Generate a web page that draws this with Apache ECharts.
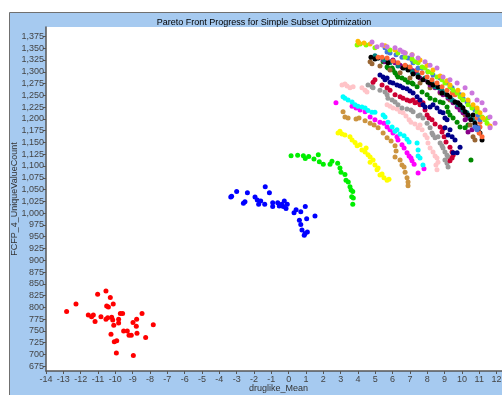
<!DOCTYPE html>
<html>
<head>
<meta charset="utf-8">
<script src="https://cdn.jsdelivr.net/npm/echarts@6/dist/echarts.min.js"></script>
<style>
  html, body { margin: 0; padding: 0; background: #fff; }
  #chart { width: 502px; height: 395px; }
</style>
</head>
<body>
<div id="chart"></div>
<script>
// tick labels
var xTicks = [-14, -13, -12, -11, -10, -9, -8, -7, -6, -5, -4, -3, -2, -1, 0, 1, 2, 3, 4, 5, 6, 7, 8, 9, 10, 11, 12];
var yTicks = [675, 700, 725, 750, 775, 800, 825, 850, 875, 900, 925, 950, 975, 1000, 1025, 1050, 1075, 1100,
  1125, 1150, 1175, 1200, 1225, 1250, 1275, 1300, 1325, 1350, 1375];

// one array per generation front: [druglike_Mean, FCFP_4_UniqueValueCount]
var redPts = [[-12.81,791],[-12.27,807],[-11.02,828],[-10.54,835],[-10.29,821],[-10.5,803],[-10.4,801],[-10.12,807],
  [-11.56,784],[-11.37,780],[-11.27,784],[-11.17,770],[-10.83,780],[-10.54,775],[-10.44,778],[-10.21,779],[-10.15,773],
  [-9.81,775],[-9.81,767],[-9.71,787],[-9.58,787],[-10.09,762],[-10.25,743],[-9.52,750],[-9.31,750],[-9.21,741],
  [-9.08,741],[-10.06,727],[-9.92,729],[-9.94,703],[-8.96,698],[-8.98,768],[-8.77,775],[-8.79,760],[-8.75,745],
  [-8.46,787],[-8.25,736],[-7.81,763]];
var bluePts = [[-3.34,1034],[-3.29,1036],[-3.0,1046],[-2.61,1021],[-2.52,1024],[-2.38,1043],[-1.94,1034],[-1.81,1028],
  [-1.73,1019],[-1.61,1026],[-1.38,1019],[-1.35,1056],[-1.11,1043],[-0.92,1022],[-0.92,1014],[-0.63,1022],[-0.54,1015],
  [-0.4,1019],[-0.31,1014],[-0.25,1026],[-0.15,1010],[-0.08,1019],[0.31,1001],[0.43,1007],[0.7,1003],[0.96,1014],
  [0.62,985],[0.7,976],[1.04,988],[1.52,994],[0.77,964],[0.95,957],[1.08,960],[0.9,953]];
var limePts = [[0.14,1122],[0.52,1123],[0.85,1122],[0.96,1116],[1.16,1120],[1.46,1115],[1.71,1124],[1.77,1109],
  [2.0,1104],[2.39,1104],[2.5,1110],[2.83,1106],[2.96,1096],[3.02,1087],[3.25,1082],[3.31,1070],[3.44,1066],
  [3.54,1056],[3.6,1049],[3.7,1046],[3.64,1035],[3.73,1032],[3.7,1019]];
var yellowPts = [[2.85,1170],[2.96,1174],[3.08,1168],[3.25,1166],[3.54,1162],[3.66,1155],[3.83,1150],[3.95,1143],
  [4.12,1145],[4.23,1134],[4.41,1130],[4.47,1138],[4.58,1124],[4.7,1119],[4.7,1108],[4.87,1113],[4.98,1102],
  [5.1,1092],[5.16,1096],[5.27,1081],[5.39,1083],[5.5,1075],[5.68,1070],[5.79,1072]];
var tanPts = [[3.14,1215],[3.25,1204],[3.43,1202],[3.89,1200],[4.06,1202],[4.41,1196],[4.7,1191],[4.93,1187],
  [5.16,1181],[5.45,1170],[5.68,1160],[5.91,1153],[6.14,1143],[6.2,1132],[6.14,1119],[6.43,1113],[6.54,1102],
  [6.66,1098],[6.72,1087],[6.83,1075],[6.89,1066],[6.89,1058]];
var magentaPts = [[2.73,1234],[3.66,1227],[3.89,1223],[4.12,1219],[4.41,1215],[4.7,1204],[4.98,1198],[5.27,1193],
  [5.5,1191],[5.68,1183],[5.85,1177],[6.02,1170],[6.25,1162],[6.31,1155],[6.54,1145],[6.66,1138],[6.83,1128],
  [6.95,1121],[7.06,1117],[7.12,1111],[7.24,1104],[7.47,1085],[7.81,1094]];
var cyanPts = [[3.14,1247],[3.25,1244],[3.43,1240],[3.66,1236],[3.83,1230],[4.0,1227],[4.23,1225],[4.41,1223],
  [4.58,1218],[4.81,1214],[4.98,1214],[5.45,1208],[5.56,1204],[5.73,1193],[5.97,1183],[6.14,1174],[6.25,1177],
  [6.43,1168],[6.66,1164],[6.83,1157],[6.95,1151],[7.41,1149],[7.47,1134],[7.47,1121],[7.58,1117],[7.75,1102]];
var pinkPts = [[3.08,1272],[3.25,1274],[3.37,1270],[3.54,1266],[3.72,1268],[4.23,1266],[4.41,1261],[4.52,1257],
  [5.68,1230],[5.85,1227],[6.02,1223],[6.25,1221],[6.43,1215],[6.6,1213],[6.77,1206],[6.95,1198],[7.06,1193],
  [7.29,1189],[7.47,1181],[7.58,1187],[7.7,1177],[7.87,1166],[7.99,1160],[8.04,1149],[8.16,1138],[8.33,1130],
  [8.45,1121],[8.56,1117],[8.62,1108],[8.5,1102],[8.56,1092]];
var greyPts = [[4.58,1272],[4.81,1268],[4.87,1266],[5.27,1261],[5.56,1257],[5.68,1251],[5.73,1244],[5.97,1240],
  [6.14,1236],[6.31,1230],[6.54,1223],[6.83,1221],[7.06,1219],[7.18,1215],[7.47,1206],[7.58,1208],[7.75,1202],
  [7.99,1191],[8.16,1181],[8.27,1170],[8.33,1166],[8.45,1160],[8.62,1162],[8.74,1149],[8.85,1143],[8.91,1138],
  [9.02,1130],[9.14,1123],[9.2,1119],[9.02,1113],[9.14,1106],[9.2,1098]];
var crimsonPts = [[4.87,1278],[4.98,1283],[5.39,1272],[5.68,1266],[5.85,1261],[6.14,1251],[6.43,1247],[6.6,1244],
  [6.83,1240],[7.0,1238],[7.18,1240],[7.29,1234],[7.47,1236],[7.58,1230],[7.75,1234],[7.87,1219],[7.99,1208],
  [8.1,1202],[8.27,1198],[8.45,1189],[8.74,1183],[8.91,1179],[8.85,1172],[8.97,1162],[9.08,1151],[9.31,1140],
  [9.43,1130],[9.49,1123],[9.43,1117],[9.31,1111]];
var navyPts = [[5.27,1293],[5.45,1289],[5.56,1283],[5.68,1287],[5.85,1278],[6.02,1276],[6.25,1272],[6.43,1270],
  [6.6,1266],[6.83,1264],[7.0,1259],[7.18,1255],[7.41,1247],[7.58,1240],[7.75,1230],[7.87,1225],[8.16,1225],
  [8.33,1230],[8.56,1223],[8.74,1215],[8.91,1213],[9.02,1202],[9.14,1198],[9.02,1181],[9.31,1177],[9.2,1166],
  [9.43,1162],[9.6,1155],[9.89,1140],[9.72,1128],[9.49,1128]];
var darkGreenPts = [[5.45,1321],[5.68,1310],[5.73,1308],[5.97,1308],[6.02,1304],[6.14,1298],[6.25,1293],[6.31,1289],
  [6.54,1287],[6.72,1283],[6.89,1278],[7.12,1276],[7.18,1274],[7.41,1268],[7.7,1257],[7.99,1251],[8.16,1244],
  [8.45,1240],[8.74,1236],[8.91,1234],[9.14,1225],[9.2,1215],[9.31,1208],[9.49,1202],[9.72,1193],[9.89,1183],
  [10.18,1181],[10.35,1187],[10.52,1113]];
var brownPts = [[4.7,1321],[4.81,1317],[5.27,1312],[5.85,1304],[6.43,1298],[7.0,1287],[7.58,1276],[8.16,1266],
  [8.74,1255],[9.31,1240],[9.77,1225],[10.18,1208],[10.47,1187],[10.64,1162],[10.75,1155]];
var purplePts = [[5.45,1325],[5.56,1321],[5.85,1321],[6.02,1325],[6.14,1319],[6.43,1314],[6.54,1310],[6.83,1308],
  [7.0,1308],[7.18,1302],[7.35,1298],[7.58,1287],[7.87,1283],[8.16,1272],[8.45,1266],[8.74,1257],[8.91,1251],
  [9.2,1244],[9.43,1240],[9.49,1234],[9.72,1225],[9.89,1219],[10.06,1213],[10.29,1208],[10.35,1202],[10.18,1198],
  [10.35,1172],[10.58,1177]];
var tealPts = [[4.98,1334],[5.16,1329],[5.5,1325],[5.85,1319],[6.31,1312],[6.72,1308],[7.12,1300],[7.47,1293],
  [7.87,1287],[8.27,1278],[8.45,1268],[8.62,1266],[8.85,1261],[9.02,1255],[9.2,1247],[9.43,1240],[9.6,1236],
  [9.77,1230],[10.0,1225],[10.06,1219],[10.29,1213],[10.47,1204],[10.7,1198]];
var blackPts = [[4.75,1331],[4.98,1327],[5.16,1329],[5.73,1319],[6.6,1308],[6.83,1310],[6.89,1304],[7.18,1295],
  [7.47,1289],[7.75,1283],[8.04,1278],[8.16,1276],[8.33,1272],[8.62,1268],[8.85,1255],[9.14,1251],[9.31,1247],
  [9.6,1236],[9.77,1234],[9.89,1230],[10.06,1223],[10.18,1215],[10.35,1208],[10.64,1208],[10.52,1198],[10.75,1191],
  [10.87,1183],[10.93,1177],[11.04,1170],[11.16,1155]];
var tomatoPts = [[5.16,1331],[5.39,1331],[5.68,1329],[6.02,1323],[6.31,1319],[6.72,1314],[7.0,1310],[7.41,1304],
  [7.7,1298],[7.99,1289],[8.27,1283],[8.56,1276],[8.85,1268],[9.14,1261],[9.43,1255],[9.6,1251],[10.0,1244],
  [10.35,1236],[10.64,1225],[10.87,1219],[10.93,1208],[10.87,1202],[11.04,1193],[11.04,1183],[10.99,1170],[11.16,1162]];
var royalPts = [[5.56,1351],[5.68,1342],[5.85,1340],[6.2,1336],[6.54,1331],[6.89,1329],[7.12,1325],[7.18,1319],
  [7.47,1308],[7.7,1308],[8.04,1300],[8.33,1293],[8.74,1287],[9.14,1276],[9.43,1266],[9.72,1257],[9.89,1251],
  [10.06,1244],[10.29,1236],[10.58,1225],[10.75,1219],[10.93,1208],[11.04,1198],[10.75,1183],[10.87,1177],[10.93,1181]];
var chartreusePts = [[3.95,1357],[4.12,1359],[4.47,1357],[4.98,1351],[5.85,1346],[6.31,1340],[6.72,1331],[7.12,1327],
  [7.29,1321],[7.47,1319],[7.7,1310],[7.87,1308],[8.04,1300],[8.27,1298],[8.56,1289],[8.85,1283],[9.02,1276],
  [9.31,1268],[9.49,1261],[9.72,1255],[9.89,1247],[10.06,1240],[10.35,1230],[10.58,1223],[10.87,1215],[11.16,1204],
  [11.33,1198],[11.5,1202],[11.45,1191]];
var orangePts = [[4.0,1365],[4.06,1361],[4.35,1361],[4.7,1359],[5.56,1355],[6.14,1346],[6.72,1340],[7.12,1336],
  [7.58,1325],[7.99,1314],[8.33,1304],[8.74,1291],[9.14,1281],[9.31,1272],[9.77,1261],[10.06,1251],[10.35,1240],
  [10.64,1230],[10.87,1223],[11.04,1213],[11.22,1202],[11.62,1185]];
var orchidPts = [[4.81,1363],[5.1,1353],[5.39,1357],[5.68,1353],[6.14,1351],[6.43,1346],[6.6,1342],[6.72,1340],
  [7.12,1336],[7.47,1329],[7.87,1321],[8.16,1314],[8.56,1308],[8.91,1289],[9.31,1283],[9.72,1276],[10.18,1266],
  [10.58,1255],[10.87,1240],[11.16,1234],[11.33,1219],[11.62,1204],[11.91,1191],[11.62,1181]];

var fronts = [
  { data: redPts, color: "#ff0000" },
  { data: bluePts, color: "#0000ff" },
  { data: limePts, color: "#00ee00" },
  { data: yellowPts, color: "#ffff00" },
  { data: tanPts, color: "#cc9440" },
  { data: magentaPts, color: "#ff00ff" },
  { data: cyanPts, color: "#00ffff" },
  { data: pinkPts, color: "#ffc4c8" },
  { data: greyPts, color: "#999999" },
  { data: crimsonPts, color: "#cc0033" },
  { data: navyPts, color: "#000088" },
  { data: darkGreenPts, color: "#008800" },
  { data: brownPts, color: "#996633" },
  { data: purplePts, color: "#880088" },
  { data: tealPts, color: "#008080" },
  { data: blackPts, color: "#000000" },
  { data: tomatoPts, color: "#ff6633" },
  { data: royalPts, color: "#4477dd" },
  { data: chartreusePts, color: "#88ff00" },
  { data: orangePts, color: "#ffbb00" },
  { data: orchidPts, color: "#cc77dd" },
];

var chart = echarts.init(document.getElementById("chart"));
var option = {
  animation: false,
  backgroundColor: "#ffffff",
  graphic: [
    {
      type: "rect",
      z: -10,
      silent: true,
      shape: { x: 9.5, y: 12.5, width: 510, height: 400 },
      style: { fill: "#a6caf0", stroke: "#707070", lineWidth: 1 },
    },
  ],
  title: {
    text: "Pareto Front Progress for Simple Subset Optimization",
    left: 259,
    top: 13,
    textAlign: "center",
    textStyle: { fontFamily: "Liberation Sans", fontSize: 9, fontWeight: "normal", color: "#000" },
  },
  grid: {
    left: 46,
    top: 27,
    right: -9,
    bottom: 24,
    outerBoundsMode: "none",
    containLabel: false,
    show: true,
    backgroundColor: "#ffffff",
    borderWidth: 0,
  },
  xAxis: {
    type: "value",
    min: -14,
    max: 12.83,
    name: "druglike_Mean",
    nameLocation: "middle",
    nameGap: 13,
    nameMoveOverlap: false,
    nameTextStyle: { fontFamily: "Liberation Sans", fontSize: 9, color: "#333" },
    splitLine: { show: false },
    axisLine: { onZero: false, lineStyle: { color: "#555", width: 1.5 } },
    axisTick: { length: 3, lineStyle: { color: "#555" }, customValues: xTicks },
    axisLabel: {
      customValues: xTicks,
      margin: 4,
      fontFamily: "Liberation Sans",
      fontSize: 9,
      color: "#444",
      showMinLabel: true,
      showMaxLabel: true,
    },
  },
  yAxis: {
    type: "value",
    min: 665,
    max: 1395,
    name: "FCFP_4_UniqueValueCount",
    nameLocation: "middle",
    nameGap: 27,
    nameMoveOverlap: false,
    nameTextStyle: { fontFamily: "Liberation Sans", fontSize: 9, color: "#333" },
    splitLine: { show: false },
    axisLine: { show: true, onZero: false, lineStyle: { color: "#555", width: 1.5 } },
    axisTick: { show: true, length: 3, lineStyle: { color: "#555" }, customValues: yTicks },
    axisLabel: {
      customValues: yTicks,
      margin: 2,
      fontFamily: "Liberation Sans",
      fontSize: 9,
      color: "#444",
      formatter: function (v) { return v.toLocaleString("en-US"); },
    },
  },
  series: fronts.map(function (f) {
    return {
      type: "scatter",
      data: f.data,
      symbolSize: 5,
      itemStyle: { color: f.color, opacity: 1 },
    };
  }),
};
chart.setOption(option);
</script>
</body>
</html>
